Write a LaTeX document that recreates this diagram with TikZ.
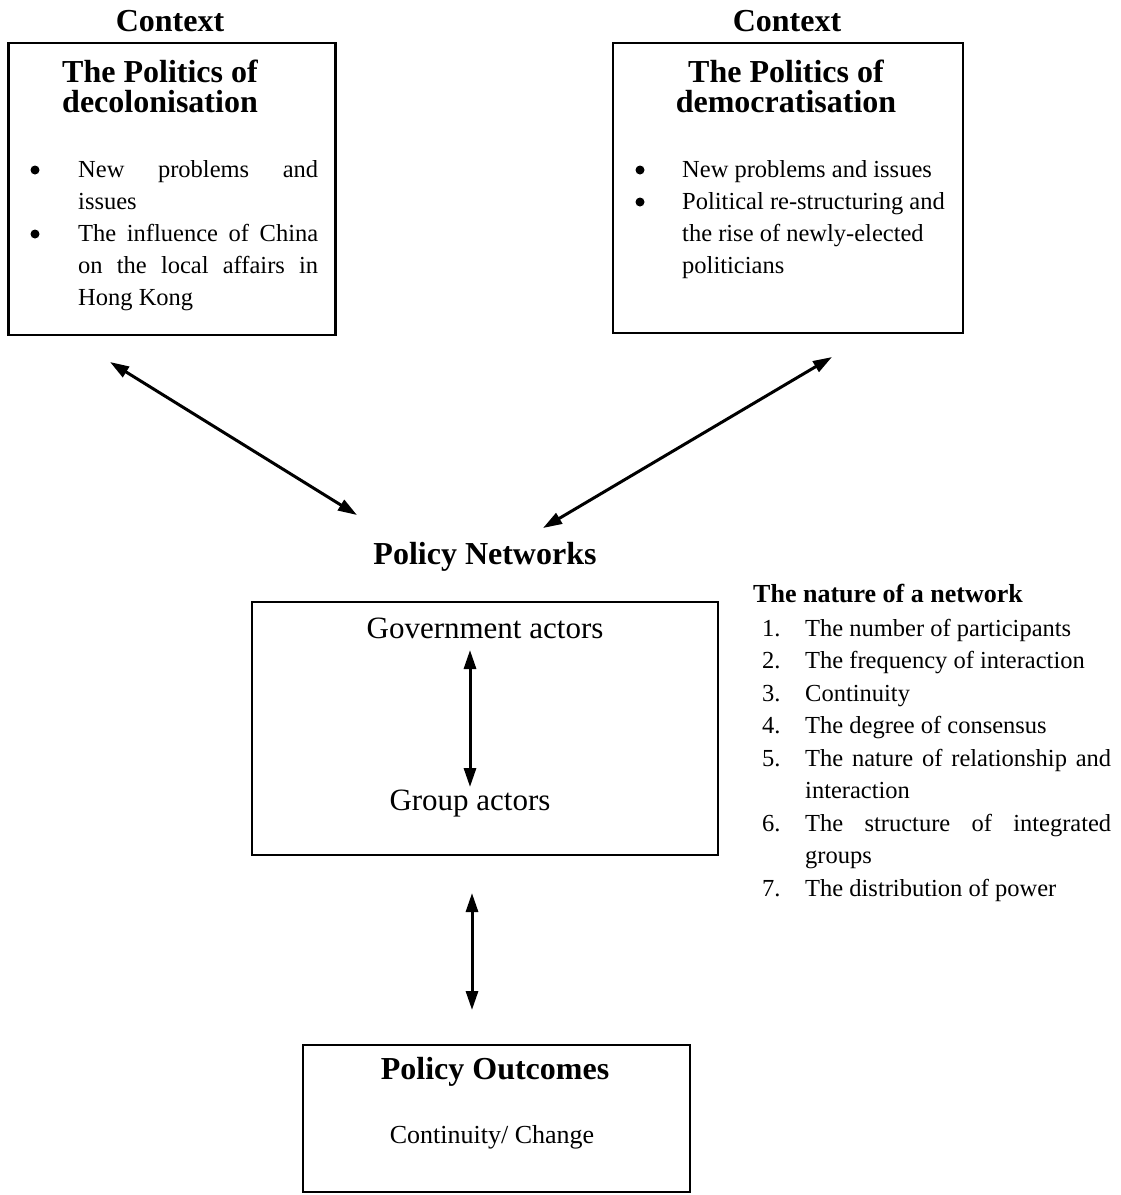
\documentclass[tikz,border=0pt]{standalone}
\usepackage{fontspec}
\setmainfont{Liberation Serif}
\usetikzlibrary{arrows.meta,positioning}

\tikzset{
  box/.style={draw, line width=2.8pt, inner sep=0pt},
  headline/.style={anchor=base, inner sep=0pt, font=\bfseries\fontsize{32}{32}\selectfont},
  subhead/.style={anchor=base west, inner sep=0pt, font=\bfseries\fontsize{26}{30}\selectfont},
  bodyline/.style={anchor=base west, inner sep=0pt, font=\fontsize{24.5}{32}\selectfont},
  listline/.style={anchor=base west, inner sep=0pt, font=\fontsize{24.5}{32}\selectfont},
  actor/.style={anchor=base, inner sep=0pt, font=\fontsize{31}{32}\selectfont},
  dot/.style={circle, fill, inner sep=0pt, minimum size=9pt},
  biarrow/.style={line width=3pt, {Triangle[length=19pt,width=12pt]}-{Triangle[length=19pt,width=12pt]}},
}
\newcommand{\fullline}[2]{\makebox[#1][s]{#2}}

\begin{document}
\begin{tikzpicture}[x=1pt,y=-1pt]
  \useasboundingbox (0,0) rectangle (1120,1195);

  % Left context: decolonisation
  \node[headline] (ctxL) at (170,31) {Context};
  \node[box, minimum width=327pt, minimum height=292pt] (decol) at (172,189) {};
  \node[headline] (decolA) at (160,82) {The Politics of};
  \node[headline] (decolB) at (160,112) {decolonisation};
  \node[dot] (decolP1) at (35,170) {};
  \node[dot] (decolP2) at (35,234) {};
  \node[bodyline] (decolL1) at (78,177) {\fullline{240pt}{New problems and}};
  \node[bodyline] (decolL2) at (78,209) {issues};
  \node[bodyline] (decolL3) at (78,241) {\fullline{240pt}{The influence of China}};
  \node[bodyline] (decolL4) at (78,273) {\fullline{240pt}{on the local affairs in}};
  \node[bodyline] (decolL5) at (78,305) {Hong Kong};

  % Right context: democratisation
  \node[headline] (ctxR) at (787,31) {Context};
  \node[box, minimum width=350pt, minimum height=290pt] (democ) at (788,188) {};
  \node[headline] (democA) at (786,82) {The Politics of};
  \node[headline] (democB) at (786,112) {democratisation};
  \node[dot] (democP1) at (640,170) {};
  \node[dot] (democP2) at (640,202) {};
  \node[bodyline] (democL1) at (682,177) {New problems and issues};
  \node[bodyline] (democL2) at (682,209) {Political re-structuring and};
  \node[bodyline] (democL3) at (682,241) {the rise of newly-elected};
  \node[bodyline] (democL4) at (682,273) {politicians};

  % Arrows between the contexts and the networks
  \coordinate (decolEnd) at (110,362);
  \coordinate (democEnd) at (832,357);
  \coordinate (netL) at (357,515);
  \coordinate (netR) at (543,528);
  \draw[biarrow] (decolEnd) -- (netL);
  \draw[biarrow] (democEnd) -- (netR);

  % Policy networks
  \node[headline] (nettitle) at (485,564) {Policy Networks};
  \node[box, minimum width=466pt, minimum height=253pt] (netbox) at (485,728.5) {};
  \node[actor] (govt) at (485,638) {Government actors};
  \node[actor] (group) at (470,810) {Group actors};
  \coordinate (govtEnd) at (470,650);
  \coordinate (groupEnd) at (470,787);
  \draw[biarrow] (govtEnd) -- (groupEnd);

  % The nature of a network
  \node[subhead] (nature) at (753,602) {The nature of a network};
  \foreach \n/\y in {1/636,2/668.5,3/701,4/733.5,5/766,6/831,7/896} {
    \node[listline] (num\n) at (762,\y) {\n.};
  }
  \node[listline] (item1) at (805,636) {The number of participants};
  \node[listline] (item2) at (805,668.5) {The frequency of interaction};
  \node[listline] (item3) at (805,701) {Continuity};
  \node[listline] (item4) at (805,733.5) {The degree of consensus};
  \node[listline] (item5) at (805,766) {\fullline{306pt}{The nature of relationship and}};
  \node[listline] (item5b) at (805,798.5) {interaction};
  \node[listline] (item6) at (805,831) {\fullline{306pt}{The structure of integrated}};
  \node[listline] (item6b) at (805,863.5) {groups};
  \node[listline] (item7) at (805,896) {The distribution of power};

  % Policy outcomes
  \coordinate (netEnd) at (472,893);
  \coordinate (outEnd) at (472,1010);
  \draw[biarrow] (netEnd) -- (outEnd);
  \node[box, minimum width=387pt, minimum height=147pt] (outbox) at (496.5,1118.5) {};
  \node[headline] (outtitle) at (495,1079) {Policy Outcomes};
  \node[actor, font=\fontsize{26}{30}\selectfont] (outtext) at (492,1143) {Continuity/ Change};
\end{tikzpicture}
\end{document}
